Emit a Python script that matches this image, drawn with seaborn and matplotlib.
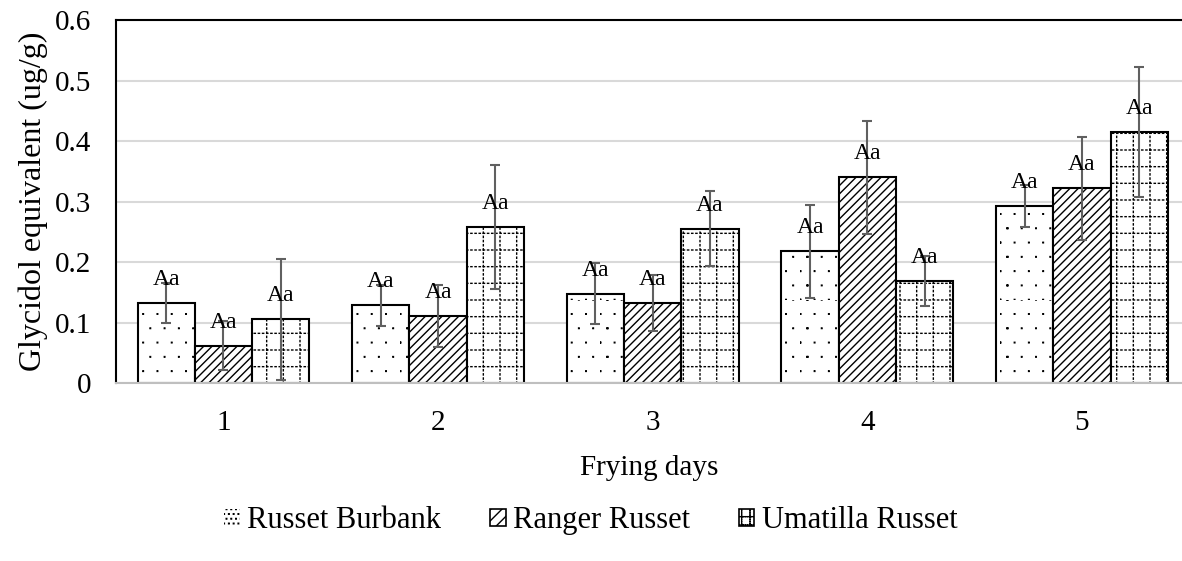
import matplotlib
matplotlib.use("Agg")
import matplotlib.pyplot as plt
from matplotlib import hatch as mhatch
from matplotlib.path import Path
from matplotlib.patches import Rectangle
import seaborn as sns
import pandas as pd
import numpy as np

days = ["1", "2", "3", "4", "5"]
varieties = ["Russet Burbank", "Ranger Russet", "Umatilla Russet"]
russet_burbank = [0.133, 0.129, 0.148, 0.218, 0.293]
ranger_russet = [0.062, 0.111, 0.133, 0.340, 0.322]
umatilla_russet = [0.106, 0.258, 0.255, 0.169, 0.415]
err_burbank = [0.033, 0.034, 0.051, 0.077, 0.035]
err_ranger = [0.041, 0.052, 0.046, 0.093, 0.085]
err_umatilla = [0.100, 0.102, 0.062, 0.042, 0.107]
letter_labels = ["Aa", "Aa", "Aa"]


# dotted-grid hatch (Umatilla Russet bars), bound to 'O'
class DottedGrid(mhatch.HatchPatternBase):
    def __init__(self, hatch, density):
        k = hatch.count("O")
        self.num_lines = 6 * k
        self.dots = 24 * k
        self.num_vertices = 2 * 2 * (self.num_lines + 1) * self.dots if k else 0

    def set_vertices_and_codes(self, vertices, codes):
        n, m = self.num_lines, self.dots
        seg = 0.012
        idx = 0
        for i in range(n + 1):
            p = i / n
            for j in range(m):
                t = j / m
                vertices[idx] = (t, p)
                vertices[idx + 1] = (t + seg, p)
                vertices[idx + 2] = (p, t)
                vertices[idx + 3] = (p, t + seg)
                codes[idx:idx + 4] = [Path.MOVETO, Path.LINETO,
                                      Path.MOVETO, Path.LINETO]
                idx += 4


# sparse tiny square dots (Russet Burbank bars), bound to 'o'
class TinyDots(mhatch.HatchPatternBase):
    def __init__(self, hatch, density):
        k = hatch.count("o")
        self.n = 7 * k
        self.num_vertices = 5 * (self.n + 1) * (self.n + 1) if k else 0

    def set_vertices_and_codes(self, vertices, codes):
        n = self.n
        s = 0.006
        idx = 0
        for i in range(n + 1):
            y = i / n
            off = 0.5 / n if i % 2 else 0.0
            for j in range(n + 1):
                x = (j / n + off) % 1.0
                vertices[idx:idx + 5] = [(x, y), (x + s, y), (x + s, y + s),
                                         (x, y + s), (x, y)]
                codes[idx:idx + 5] = [Path.MOVETO, Path.LINETO, Path.LINETO,
                                      Path.LINETO, Path.CLOSEPOLY]
                idx += 5


mhatch._hatch_types = [c for c in mhatch._hatch_types
                       if c not in (mhatch.LargeCircles, mhatch.SmallCircles)
                       ] + [DottedGrid, TinyDots]

values = [russet_burbank, ranger_russet, umatilla_russet]
errors = [err_burbank, err_ranger, err_umatilla]
rows = []
for v, vals, errs in zip(varieties, values, errors):
    for d, val, e in zip(days, vals, errs):
        rows.append({"Day": d, "Variety": v, "Value": val, "Err": e})
df = pd.DataFrame(rows)

sns.set_theme(style="white")
plt.rcParams["font.family"] = ["Liberation Serif", "DejaVu Serif"]
plt.rcParams["hatch.linewidth"] = 1.0
for k in ["text.color", "axes.labelcolor", "xtick.color", "ytick.color"]:
    plt.rcParams[k] = "black"

fig = plt.figure(figsize=(11.82, 5.61), dpi=100)
ax = fig.add_axes([0.0982, 0.317, 0.9018, 0.647])

sns.barplot(data=df, x="Day", y="Value", hue="Variety", order=days,
            hue_order=varieties, palette=["white"] * 3, errorbar=None,
            edgecolor="black", linewidth=1.5, width=0.8, ax=ax, legend=False,
            saturation=1)

hatches = ["o", "////", "O"]
for cont, h, v, lab in zip(ax.containers, hatches, varieties, letter_labels):
    sub = df[df["Variety"] == v].set_index("Day").loc[days]
    for patch, val, e in zip(cont.patches, sub["Value"], sub["Err"]):
        patch.set_hatch(h)
        cx = patch.get_x() + patch.get_width() / 2
        ax.errorbar(cx, val, yerr=e, fmt="none", ecolor="#606060",
                    elinewidth=1.5, capsize=3.5, capthick=1.5, zorder=5)
        ax.annotate(lab, (cx, val), xytext=(0, 13), textcoords="offset points",
                    ha="center", va="baseline", fontsize=17, color="black",
                    zorder=6)

ax.set_ylim(0, 0.6)
ax.set_xlim(-0.5, 4.466)
ax.set_yticks([0, 0.1, 0.2, 0.3, 0.4, 0.5, 0.6])
ax.set_yticklabels(["0", "0.1", "0.2", "0.3", "0.4", "0.5", "0.6"])
ax.yaxis.grid(True, color="#d9d9d9", linewidth=1.5)
ax.set_axisbelow(True)
ax.tick_params(axis="both", length=0, labelsize=21, colors="black")
ax.tick_params(axis="y", pad=18)
ax.tick_params(axis="x", pad=19)
for s in ["left", "top"]:
    ax.spines[s].set_color("black")
    ax.spines[s].set_linewidth(1.5)
ax.spines["right"].set_visible(False)
ax.spines["bottom"].set_color("#bfbfbf")
ax.spines["bottom"].set_linewidth(1.5)

ax.set_xlabel("Frying days", fontsize=21, labelpad=14)
ax.set_ylabel("Glycidol equivalent (ug/g)", fontsize=23, labelpad=5)

handles = [
    Rectangle((0, 0), 1, 1, facecolor="white", edgecolor="black",
              linewidth=0, hatch="ooo"),
    Rectangle((0, 0), 1, 1, facecolor="white", edgecolor="black",
              linewidth=1.2, hatch="///"),
    Rectangle((0, 0), 1, 1, facecolor="white", edgecolor="black",
              linewidth=1.2, hatch="OO"),
]
ax.legend(handles, varieties, loc="center", bbox_to_anchor=(0.5, 0.072),
          bbox_transform=fig.transFigure, ncol=3, frameon=False, fontsize=22,
          handlelength=0.5, handleheight=0.5, handletextpad=0.25,
          columnspacing=1.6)

fig.savefig("out.png", dpi=100)
